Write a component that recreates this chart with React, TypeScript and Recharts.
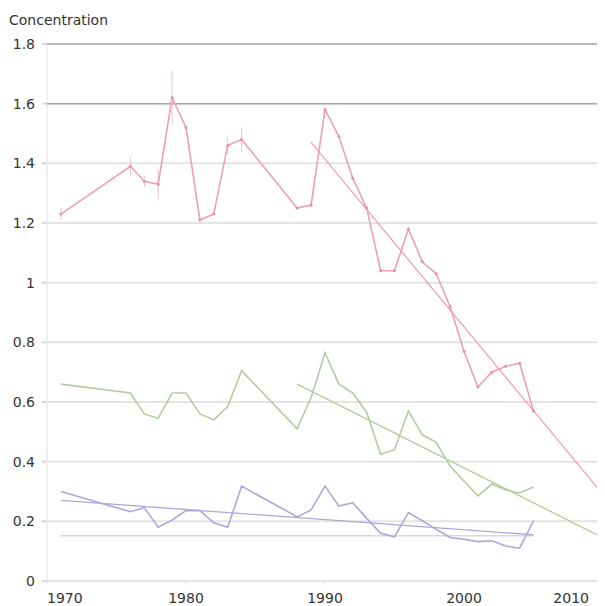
import React from 'react';
import {
  ComposedChart,
  Line,
  XAxis,
  YAxis,
  CartesianGrid,
  ReferenceLine,
  ErrorBar
} from 'recharts';

// years with measurements (2010 only carries trend end points)
const years = [
  1971, 1976, 1977, 1978, 1979, 1980, 1981, 1982, 1983, 1984,
  1988, 1989, 1990, 1991, 1992, 1993, 1994, 1995, 1996, 1997,
  1998, 1999, 2000, 2001, 2002, 2003, 2004, 2005, 2010
];

const redValues = [
  1.23, 1.39, 1.34, 1.33, 1.62, 1.52, 1.21, 1.23, 1.46, 1.48,
  1.25, 1.26, 1.58, 1.49, 1.35, 1.25, 1.04, 1.04, 1.18, 1.07,
  1.03, 0.92, 0.77, 0.65, 0.7, 0.72, 0.73, 0.57, null
];

const redErrors = [
  0.02, 0.03, 0.02, 0.05, 0.09, 0, 0, 0, 0.03, 0.04,
  0, 0, 0, 0, 0, 0, 0, 0, 0, 0,
  0, 0, 0, 0, 0, 0, 0, 0, 0
];

const greenValues = [
  0.66, 0.63, 0.56, 0.545, 0.63, 0.63, 0.56, 0.54, 0.585, 0.705,
  0.51, 0.615, 0.765, 0.66, 0.63, 0.565, 0.425, 0.44, 0.57, 0.49,
  0.465, 0.385, 0.335, 0.285, 0.325, 0.305, 0.295, 0.315, null
];

const blueValues = [
  0.3, 0.232, 0.246, 0.18, 0.204, 0.236, 0.236, 0.195, 0.18, 0.318,
  0.215, 0.238, 0.318, 0.251, 0.262, 0.21, 0.16, 0.148, 0.229, 0.202,
  0.173, 0.146, 0.14, 0.132, 0.135, 0.117, 0.11, 0.202, null
];

// trend lines: [startYear, startValue, endYear, endValue]
const redTrend = [1989, 1.47, 2010, 0.29];
const greenTrend = [1988, 0.66, 2010, 0.145];
const blueTrend = [1971, 0.27, 2005, 0.155];
const flatLine = [1971, 0.152, 2005, 0.152];

const yTicks = [0, 0.2, 0.4, 0.6, 0.8, 1, 1.2, 1.4, 1.6, 1.8];
const xTicks = [1970, 1980, 1990, 2000, 2010];

const trendAt = (t: number[], year: number) =>
  year === t[0] ? t[1] : year === t[2] ? t[3] : null;

const data = years.map((year, i) => ({
  year,
  red: redValues[i],
  redErr: redErrors[i],
  green: greenValues[i],
  blue: blueValues[i],
  redTrend: trendAt(redTrend, year),
  greenTrend: trendAt(greenTrend, year),
  blueTrend: trendAt(blueTrend, year),
  flat: trendAt(flatLine, year)
}));

const FONT = '"DejaVu Sans", Verdana, sans-serif';

const RED = '#eea0ae';
const GREEN = '#b2cca2';
const BLUE = '#a8a8da';

const YearTick = (props: any) => {
  const { x, y, payload } = props;
  const v = payload.value;
  const anchor = v === xTicks[0] ? 'start' : v === xTicks[xTicks.length - 1] ? 'end' : 'middle';
  return (
    <text x={x} y={y} dy="0.71em" textAnchor={anchor} fill="#333" fontSize={14} fontFamily={FONT}>
      {v}
    </text>
  );
};

export default function App() {
  return (
    <div style={{ position: 'relative', width: 597, height: 598 }}>
      <div
        style={{
          position: 'absolute',
          left: 1,
          top: 4,
          fontFamily: FONT,
          fontSize: 14,
          color: '#333'
        }}
      >
        Concentration
      </div>
      <ComposedChart
        width={597}
        height={598}
        data={data}
        margin={{ top: 36, right: 2, left: 0, bottom: 0 }}
      >
        <CartesianGrid vertical={false} stroke="#e4e4e4" strokeWidth={2} />
        <ReferenceLine x={1970} stroke="#f0f0f0" strokeWidth={2} />
        <ReferenceLine x={2010} stroke="#f0f0f0" strokeWidth={2} />
        <ReferenceLine y={1.8} stroke="#aaaaaa" strokeWidth={1.5} />
        <ReferenceLine y={1.6} stroke="#b0a8a8" strokeWidth={1.5} />
        <XAxis
          dataKey="year"
          type="number"
          domain={[1970, 2010]}
          ticks={xTicks}
          height={25}
          axisLine={{ stroke: '#e4e4e4', strokeWidth: 2 }}
          tickLine={{ stroke: '#e0e0e0' }}
          tickSize={4}
          tickMargin={8}
          tick={<YearTick />}
        />
        <YAxis
          type="number"
          domain={[0, 1.8]}
          ticks={yTicks}
          width={39}
          axisLine={false}
          tickLine={{ stroke: '#d8d8d8', strokeWidth: 2 }}
          tickSize={5}
          tickMargin={7}
          tick={{ fill: '#333', fontSize: 14, fontFamily: FONT }}
        />
        <Line
          dataKey="flat"
          stroke="#d4d8e4"
          strokeWidth={1.5}
          dot={false}
          connectNulls
          isAnimationActive={false}
        />
        <Line
          dataKey="blueTrend"
          stroke={BLUE}
          strokeWidth={1.3}
          dot={false}
          connectNulls
          isAnimationActive={false}
        />
        <Line
          dataKey="greenTrend"
          stroke={GREEN}
          strokeWidth={1.3}
          dot={false}
          connectNulls
          isAnimationActive={false}
        />
        <Line
          dataKey="redTrend"
          stroke={RED}
          strokeWidth={1.3}
          dot={false}
          connectNulls
          isAnimationActive={false}
        />
        <Line
          dataKey="blue"
          stroke={BLUE}
          strokeWidth={1.6}
          dot={false}
          isAnimationActive={false}
        />
        <Line
          dataKey="green"
          stroke={GREEN}
          strokeWidth={1.6}
          dot={false}
          isAnimationActive={false}
        />
        <Line
          dataKey="red"
          stroke={RED}
          strokeWidth={1.6}
          dot={{ r: 1.5, fill: '#e890a0', stroke: 'none' }}
          isAnimationActive={false}
        >
          <ErrorBar dataKey="redErr" direction="y" width={0} stroke="#e6c6cc" strokeWidth={1} isAnimationActive={false} />
        </Line>
      </ComposedChart>
    </div>
  );
}
